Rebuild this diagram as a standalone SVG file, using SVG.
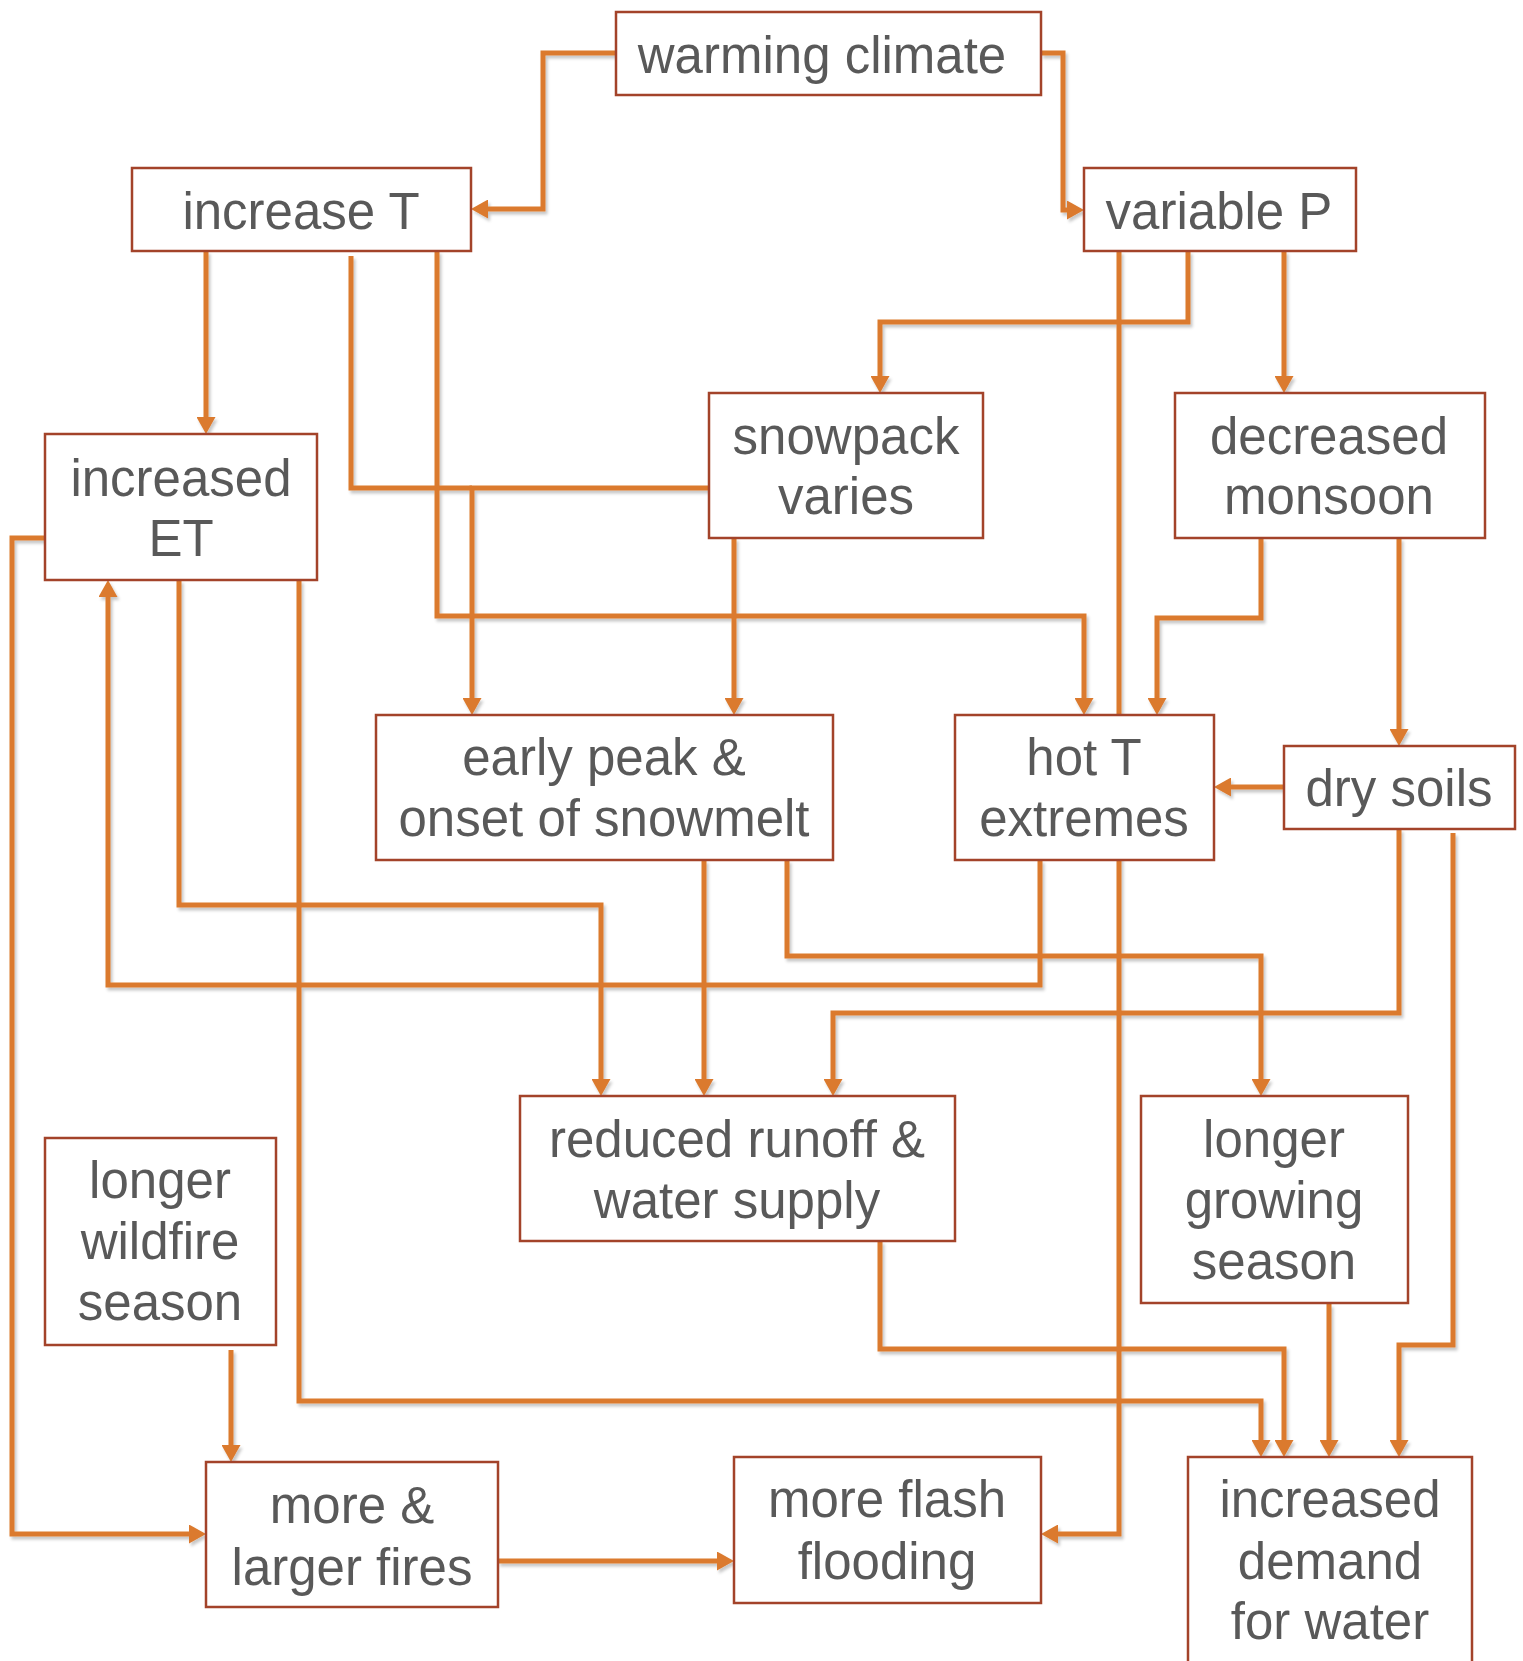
<svg xmlns="http://www.w3.org/2000/svg" width="1523" height="1661" viewBox="0 0 1523 1661">
<style>
.box{fill:#ffffff;stroke:#A3432A;stroke-width:2.5}
.lbl{font-family:"Liberation Sans",Arial,sans-serif;font-size:51px;fill:#595959;text-anchor:middle}
.con{fill:none;stroke:#DB7A2E;stroke-width:5;stroke-linejoin:miter}
.arr{marker-end:url(#ah)}
</style>
<defs>
<marker id="ah" markerUnits="userSpaceOnUse" markerWidth="17" markerHeight="19" refX="8" refY="9.5" orient="auto">
<path d="M0,0 L17,9.5 L0,19 z" fill="#DB7A2E"/>
</marker>
<filter id="sh" x="-5%" y="-5%" width="110%" height="110%">
<feDropShadow dx="2" dy="3" stdDeviation="1.5" flood-color="#000" flood-opacity="0.22"/>
</filter>
</defs>
<rect width="1523" height="1661" fill="#ffffff"/>
<g id="connectors" filter="url(#sh)">
<path class="con arr" d="M616,53 H543 V209 H480"/>
<path class="con arr" d="M1041,53 H1063 V210 H1075"/>
<path class="con arr" d="M206,251 V425"/>
<path class="con" d="M351,256 V488 H472"/>
<path class="con arr" d="M709,488 H472 V706"/>
<path class="con arr" d="M437,251 V616 H1084 V706"/>
<path class="con arr" d="M1188,251 V322 H880 V384"/>
<path class="con arr" d="M1119,251 V1534 H1050"/>
<path class="con arr" d="M1284,251 V384"/>
<path class="con arr" d="M1261,538 V618 H1157 V706"/>
<path class="con arr" d="M1399,538 V737"/>
<path class="con arr" d="M734,538 V706"/>
<path class="con arr" d="M1284,787 H1223"/>
<path class="con arr" d="M179,580 V905 H601 V1087"/>
<path class="con arr" d="M1040,860 V985 H108 V589"/>
<path class="con arr" d="M299,580 V1401 H1261 V1448"/>
<path class="con arr" d="M45,538 H12 V1534 H197"/>
<path class="con arr" d="M704,860 V1087"/>
<path class="con arr" d="M787,860 V956 H1261 V1087"/>
<path class="con arr" d="M1399,829 V1013 H833 V1087"/>
<path class="con arr" d="M1453,833 V1345 H1399 V1448"/>
<path class="con arr" d="M880,1241 V1349 H1284 V1448"/>
<path class="con arr" d="M1329,1304 V1448"/>
<path class="con arr" d="M231,1350 V1453"/>
<path class="con arr" d="M498,1561 H725"/>
</g>
<g id="warming-climate"><rect class="box" x="616" y="12" width="425" height="83"/><text class="lbl" x="822" y="73">warming climate</text></g>
<g id="increase-T"><rect class="box" x="132" y="168" width="339" height="83"/><text class="lbl" x="301" y="229">increase T</text></g>
<g id="variable-P"><rect class="box" x="1084" y="168" width="272" height="83"/><text class="lbl" x="1219" y="229">variable P</text></g>
<g id="increased-ET"><rect class="box" x="45" y="434" width="272" height="146"/><text class="lbl" x="181" y="496">increased</text><text class="lbl" x="181" y="556">ET</text></g>
<g id="snowpack-varies"><rect class="box" x="709" y="393" width="274" height="145"/><text class="lbl" x="846" y="454">snowpack</text><text class="lbl" x="846" y="514">varies</text></g>
<g id="decreased-monsoon"><rect class="box" x="1175" y="393" width="310" height="145"/><text class="lbl" x="1329" y="454">decreased</text><text class="lbl" x="1329" y="514">monsoon</text></g>
<g id="early-peak"><rect class="box" x="376" y="715" width="457" height="145"/><text class="lbl" x="604" y="775">early peak &amp;</text><text class="lbl" x="604" y="836">onset of snowmelt</text></g>
<g id="hot-T-extremes"><rect class="box" x="955" y="715" width="259" height="145"/><text class="lbl" x="1084" y="775">hot T</text><text class="lbl" x="1084" y="836">extremes</text></g>
<g id="dry-soils"><rect class="box" x="1284" y="746" width="231" height="83"/><text class="lbl" x="1399" y="806">dry soils</text></g>
<g id="reduced-runoff"><rect class="box" x="520" y="1096" width="435" height="145"/><text class="lbl" x="737" y="1157">reduced runoff &amp;</text><text class="lbl" x="737" y="1218">water supply</text></g>
<g id="longer-growing-season"><rect class="box" x="1141" y="1096" width="267" height="207"/><text class="lbl" x="1274" y="1157">longer</text><text class="lbl" x="1274" y="1218">growing</text><text class="lbl" x="1274" y="1279">season</text></g>
<g id="longer-wildfire-season"><rect class="box" x="45" y="1138" width="231" height="207"/><text class="lbl" x="160" y="1198">longer</text><text class="lbl" x="160" y="1259">wildfire</text><text class="lbl" x="160" y="1320">season</text></g>
<g id="more-larger-fires"><rect class="box" x="206" y="1462" width="292" height="145"/><text class="lbl" x="352" y="1523">more &amp;</text><text class="lbl" x="352" y="1585">larger fires</text></g>
<g id="more-flash-flooding"><rect class="box" x="734" y="1457" width="307" height="146"/><text class="lbl" x="887" y="1517">more flash</text><text class="lbl" x="887" y="1579">flooding</text></g>
<g id="increased-demand"><rect class="box" x="1188" y="1457" width="284" height="260"/><text class="lbl" x="1330" y="1517">increased</text><text class="lbl" x="1330" y="1579">demand</text><text class="lbl" x="1330" y="1639">for water</text></g>
</svg>
